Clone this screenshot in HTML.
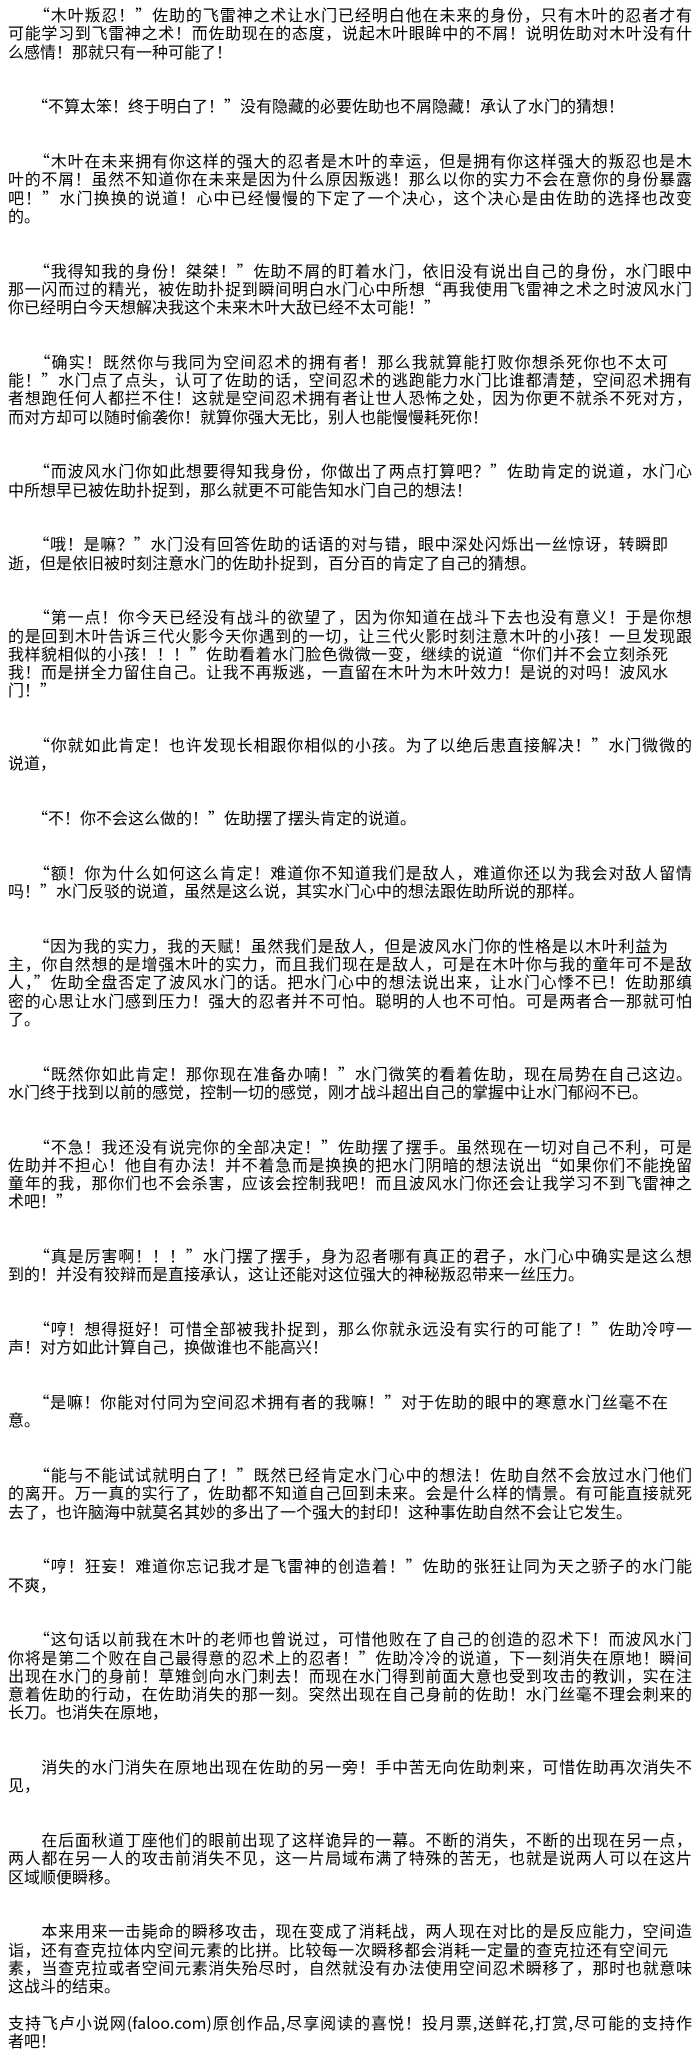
<!DOCTYPE html>
<html><head><meta charset="utf-8">
<style>
html,body{margin:0;padding:0;background:#fff;}
body{width:700px;height:2056px;overflow:hidden;}
#c{position:absolute;left:8px;top:5px;width:684px;font-family:"Noto Sans CJK SC","Liberation Sans","WenQuanYi Zen Hei",sans-serif;font-size:16px;line-height:18.25px;color:#000;}
.p{margin-bottom:36.5px;}
.l{display:block;text-align:justify;text-align-last:justify;white-space:nowrap;}
.e,.s{display:block;text-align:left;white-space:nowrap;}
.s{width:660px;text-align:justify;text-align-last:justify;}
</style></head><body><div id="c">
<div class="p"><span class="l">　　“木叶叛忍！”佐助的飞雷神之术让水门已经明白他在未来的身份，只有木叶的忍者才有</span><span class="l">可能学习到飞雷神之术！而佐助现在的态度，说起木叶眼眸中的不屑！说明佐助对木叶没有什</span><span class="e">么感情！那就只有一种可能了！</span></div>
<div class="p"><span class="e">　　“不算太笨！终于明白了！”没有隐藏的必要佐助也不屑隐藏！承认了水门的猜想！</span></div>
<div class="p"><span class="l">　　“木叶在未来拥有你这样的强大的忍者是木叶的幸运，但是拥有你这样强大的叛忍也是木</span><span class="l">叶的不屑！虽然不知道你在未来是因为什么原因叛逃！那么以你的实力不会在意你的身份暴露</span><span class="l">吧！”水门换换的说道！心中已经慢慢的下定了一个决心，这个决心是由佐助的选择也改变</span><span class="e">的。</span></div>
<div class="p"><span class="l">　　“我得知我的身份！桀桀！”佐助不屑的盯着水门，依旧没有说出自己的身份，水门眼中</span><span class="l">那一闪而过的精光，被佐助扑捉到瞬间明白水门心中所想“再我使用飞雷神之术之时波风水门</span><span class="e">你已经明白今天想解决我这个未来木叶大敌已经不太可能！”</span></div>
<div class="p"><span class="s">　　“确实！既然你与我同为空间忍术的拥有者！那么我就算能打败你想杀死你也不太可</span><span class="l">能！”水门点了点头，认可了佐助的话，空间忍术的逃跑能力水门比谁都清楚，空间忍术拥有</span><span class="l">者想跑任何人都拦不住！这就是空间忍术拥有者让世人恐怖之处，因为你更不就杀不死对方，</span><span class="e">而对方却可以随时偷袭你！就算你强大无比，别人也能慢慢耗死你！</span></div>
<div class="p"><span class="l">　　“而波风水门你如此想要得知我身份，你做出了两点打算吧？”佐助肯定的说道，水门心</span><span class="e">中所想早已被佐助扑捉到，那么就更不可能告知水门自己的想法！</span></div>
<div class="p"><span class="s">　　“哦！是嘛？”水门没有回答佐助的话语的对与错，眼中深处闪烁出一丝惊讶，转瞬即</span><span class="e">逝，但是依旧被时刻注意水门的佐助扑捉到，百分百的肯定了自己的猜想。</span></div>
<div class="p"><span class="l">　　“第一点！你今天已经没有战斗的欲望了，因为你知道在战斗下去也没有意义！于是你想</span><span class="l">的是回到木叶告诉三代火影今天你遇到的一切，让三代火影时刻注意木叶的小孩！一旦发现跟</span><span class="s">我样貌相似的小孩！！！”佐助看着水门脸色微微一变，继续的说道“你们并不会立刻杀死</span><span class="s">我！而是拼全力留住自己。让我不再叛逃，一直留在木叶为木叶效力！是说的对吗！波风水</span><span class="e">门！”</span></div>
<div class="p"><span class="l">　　“你就如此肯定！也许发现长相跟你相似的小孩。为了以绝后患直接解决！”水门微微的</span><span class="e">说道，</span></div>
<div class="p"><span class="e">　　“不！你不会这么做的！”佐助摆了摆头肯定的说道。</span></div>
<div class="p"><span class="l">　　“额！你为什么如何这么肯定！难道你不知道我们是敌人，难道你还以为我会对敌人留情</span><span class="e">吗！”水门反驳的说道，虽然是这么说，其实水门心中的想法跟佐助所说的那样。</span></div>
<div class="p"><span class="s">　　“因为我的实力，我的天赋！虽然我们是敌人，但是波风水门你的性格是以木叶利益为</span><span class="l">主，你自然想的是增强木叶的实力，而且我们现在是敌人，可是在木叶你与我的童年可不是敌</span><span class="l">人，”佐助全盘否定了波风水门的话。把水门心中的想法说出来，让水门心悸不已！佐助那缜</span><span class="l">密的心思让水门感到压力！强大的忍者并不可怕。聪明的人也不可怕。可是两者合一那就可怕</span><span class="e">了。</span></div>
<div class="p"><span class="l">　　“既然你如此肯定！那你现在准备办喃！”水门微笑的看着佐助，现在局势在自己这边。</span><span class="e">水门终于找到以前的感觉，控制一切的感觉，刚才战斗超出自己的掌握中让水门郁闷不已。</span></div>
<div class="p"><span class="l">　　“不急！我还没有说完你的全部决定！”佐助摆了摆手。虽然现在一切对自己不利，可是</span><span class="l">佐助并不担心！他自有办法！并不着急而是换换的把水门阴暗的想法说出“如果你们不能挽留</span><span class="l">童年的我，那你们也不会杀害，应该会控制我吧！而且波风水门你还会让我学习不到飞雷神之</span><span class="e">术吧！”</span></div>
<div class="p"><span class="l">　　“真是厉害啊！！！”水门摆了摆手，身为忍者哪有真正的君子，水门心中确实是这么想</span><span class="e">到的！并没有狡辩而是直接承认，这让还能对这位强大的神秘叛忍带来一丝压力。</span></div>
<div class="p"><span class="l">　　“哼！想得挺好！可惜全部被我扑捉到，那么你就永远没有实行的可能了！”佐助冷哼一</span><span class="e">声！对方如此计算自己，换做谁也不能高兴！</span></div>
<div class="p"><span class="s">　　“是嘛！你能对付同为空间忍术拥有者的我嘛！”对于佐助的眼中的寒意水门丝毫不在</span><span class="e">意。</span></div>
<div class="p"><span class="l">　　“能与不能试试就明白了！”既然已经肯定水门心中的想法！佐助自然不会放过水门他们</span><span class="l">的离开。万一真的实行了，佐助都不知道自己回到未来。会是什么样的情景。有可能直接就死</span><span class="e">去了，也许脑海中就莫名其妙的多出了一个强大的封印！这种事佐助自然不会让它发生。</span></div>
<div class="p"><span class="l">　　“哼！狂妄！难道你忘记我才是飞雷神的创造着！”佐助的张狂让同为天之骄子的水门能</span><span class="e">不爽，</span></div>
<div class="p"><span class="l">　　“这句话以前我在木叶的老师也曾说过，可惜他败在了自己的创造的忍术下！而波风水门</span><span class="l">你将是第二个败在自己最得意的忍术上的忍者！”佐助冷冷的说道，下一刻消失在原地！瞬间</span><span class="l">出现在水门的身前！草雉剑向水门刺去！而现在水门得到前面大意也受到攻击的教训，实在注</span><span class="l">意着佐助的行动，在佐助消失的那一刻。突然出现在自己身前的佐助！水门丝毫不理会刺来的</span><span class="e">长刀。也消失在原地，</span></div>
<div class="p"><span class="l">　　消失的水门消失在原地出现在佐助的另一旁！手中苦无向佐助刺来，可惜佐助再次消失不</span><span class="e">见，</span></div>
<div class="p"><span class="l">　　在后面秋道丁座他们的眼前出现了这样诡异的一幕。不断的消失，不断的出现在另一点，</span><span class="l">两人都在另一人的攻击前消失不见，这一片局域布满了特殊的苦无，也就是说两人可以在这片</span><span class="e">区域顺便瞬移。</span></div>
<div class="p" style="margin-bottom:18.25px"><span class="l">　　本来用来一击毙命的瞬移攻击，现在变成了消耗战，两人现在对比的是反应能力，空间造</span><span class="s">诣，还有查克拉体内空间元素的比拼。比较每一次瞬移都会消耗一定量的查克拉还有空间元</span><span class="l">素，当查克拉或者空间元素消失殆尽时，自然就没有办法使用空间忍术瞬移了，那时也就意味</span><span class="e">这战斗的结束。</span></div>
<div><span class="l">支持飞卢小说网(faloo.com)原创作品,尽享阅读的喜悦！投月票,送鲜花,打赏,尽可能的支持作</span><span class="e">者吧！</span></div>
</div></body></html>
